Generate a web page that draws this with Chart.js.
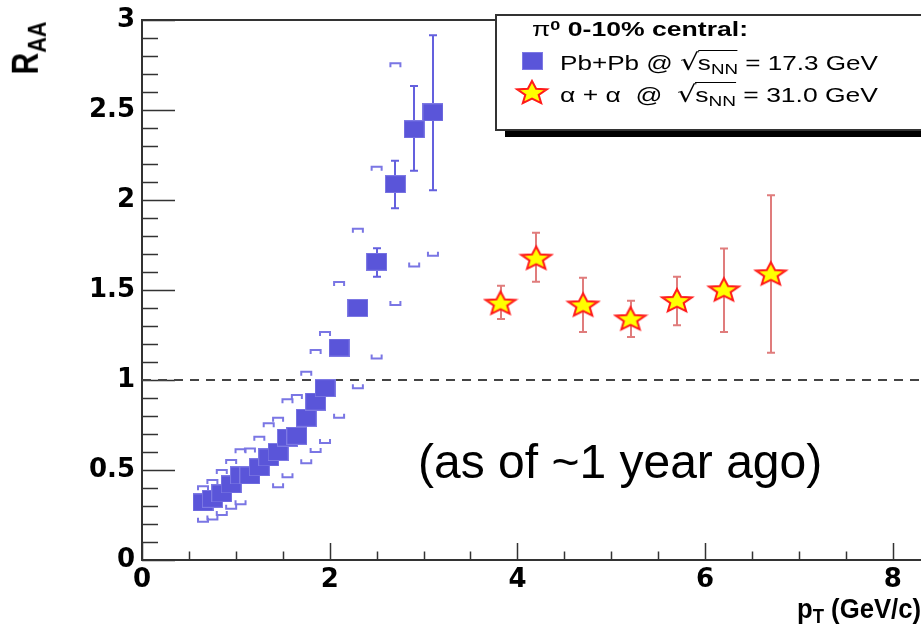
<!DOCTYPE html>
<html>
<head>
<meta charset="utf-8">
<title>R_AA vs pT</title>
<script src="https://cdn.jsdelivr.net/npm/chart.js@4.4.1/dist/chart.umd.min.js"></script>
<style>
  html, body { margin: 0; padding: 0; background: #fff; }
  #wrap { position: relative; width: 921px; height: 626px; overflow: hidden; background: #fff; }
  #plot { position: absolute; left: 0; top: 0; }
  .txt { position: absolute; white-space: nowrap; font-family: "Liberation Sans", Arial, Helvetica, sans-serif;
         color: #000; line-height: 1; transform-origin: 0 0; }
  .txt sub { font-size: 72%; vertical-align: -0.28em; line-height: 1; }
  .txt sup { font-size: 68%; vertical-align: 0.45em; line-height: 1; }
  .rad { font-family: "DejaVu Sans", sans-serif; font-size: 115%; }
  .ov { border-top: 1.5px solid #000; padding-top: 1px; margin-left: -1px; }
  #legendBox { position: absolute; left: 495px; top: 14px; width: 440px; height: 113px; background: #fff;
               border: 2px solid #333; box-shadow: 10px 6px 0 0 #000; }
  .lgMark { position: absolute; }
</style>
</head>
<body>
<div id="wrap">
  <canvas id="plot" width="921" height="626"></canvas>

  <div id="legendBox"></div>
  <div class="txt fit" id="lgTitle" data-w="216" style="left:532px; top:19px; font-size:20px; font-weight:bold;"><span style="font-weight:normal">π</span><sup>0</sup> 0-10% central:</div>
  <canvas class="lgMark" id="lgSquare" width="21" height="18" style="left:522px; top:52px;"></canvas>
  <div class="txt fit" id="lgPb" data-w="318" style="left:560px; top:51px; font-size:20px;">Pb+Pb @ <span class="rad">√</span><span class="ov">s<sub>NN</sub></span> = 17.3 GeV</div>
  <canvas class="lgMark" id="lgStar" width="36" height="28" style="left:514px; top:78px;"></canvas>
  <div class="txt fit" id="lgAa" data-w="318" style="left:560px; top:83px; font-size:20px;">α + α &nbsp;@ &nbsp;<span class="rad">√</span><span class="ov">s<sub>NN</sub></span> = 31.0 GeV</div>

  <div class="txt" id="yTitle" style="left:0; top:0; font-size:30px; font-weight:bold;">R<sub>AA</sub></div>
  <div class="txt fit" id="xTitle" data-w="124" style="left:797px; top:596px; font-size:27px; font-weight:bold;">p<sub>T</sub> (GeV/c)</div>

  <div class="txt" id="note" style="left:418px; top:438px; font-size:48px;">(as of ~1 year ago)</div>
</div>

<script>
// ---- pi0 R_AA, 0-10% central ----
// Pb+Pb @ sqrt(sNN) = 17.3 GeV
const pbPt      = [0.65, 0.75, 0.85, 0.95, 1.05, 1.15, 1.25, 1.35, 1.45, 1.55,
                   1.65, 1.75, 1.85, 1.95, 2.1, 2.3, 2.5, 2.7, 2.9, 3.1];
const pbRaa     = [0.32, 0.34, 0.37, 0.42, 0.47, 0.47, 0.515, 0.57, 0.60, 0.68,
                   0.69, 0.79, 0.88, 0.955, 1.18, 1.40, 1.657, 2.088, 2.393, 2.487];
const pbStatLow  = [null, null, null, null, null, null, null, null, null, null,
                    null, null, null, null, null, null, 1.574, 1.954, 2.163, 2.054];
const pbStatHigh = [null, null, null, null, null, null, null, null, null, null,
                    null, null, null, null, null, null, 1.732, 2.218, 2.633, 2.915];
const pbSysHigh = [0.41, 0.444, 0.50, 0.556, 0.615, 0.62, 0.685, 0.76, 0.79, 0.893,
                   0.917, 1.046, 1.167, 1.267, 1.545, 1.84, 2.185, 2.76, null, null];
const pbSysLow  = [0.213, 0.225, 0.25, 0.285, 0.31, null, null, null, 0.404, 0.46,
                   null, 0.537, 0.60, 0.65, 0.79, 0.954, 1.12, 1.417, 1.63, 1.69];

// alpha+alpha @ sqrt(sNN) = 31.0 GeV
const aaPt       = [3.82, 4.20, 4.70, 5.205, 5.70, 6.20, 6.70];
const aaRaa      = [1.43, 1.68, 1.42, 1.343, 1.444, 1.504, 1.593];
const aaStatLow  = [1.339, 1.546, 1.267, 1.239, 1.304, 1.267, 1.152];
const aaStatHigh = [1.524, 1.818, 1.568, 1.44, 1.574, 1.731, 2.026];

// axes
const xMin = 0, xMax = 8.3;
const yMin = 0, yMax = 3;
const xTickValues = [0, 2, 4, 6, 8];
const xTickLabels = ['0', '2', '4', '6', '8'];
const yTickValues = [0, 0.5, 1, 1.5, 2, 2.5, 3];
const yTickLabels = ['0', '0.5', '1', '1.5', '2', '2.5', '3'];
const xMinorStep = 0.5, yMinorStep = 0.1;
const refLevel = 1;

// ---- styles ----
const SQUARE_FILL = '#5a55d9';
const SQUARE_EDGE = '#7d79e4';
const PB_BAR = '#6460de';
const PB_BRACKET = '#7a76e4';
const AA_BAR = '#e07c7c';
const STAR_FILL = '#ffff00';
const STAR_EDGE = '#ff1a1a';
const FRAME = '#333333';

function drawSquare(c) {
  const g = c.getContext('2d');
  g.fillStyle = SQUARE_FILL;
  g.fillRect(0, 0, c.width, c.height);
  g.strokeStyle = SQUARE_EDGE;
  g.lineWidth = 1;
  g.strokeRect(0.5, 0.5, c.width - 1, c.height - 1);
  return c;
}
function drawStar(c) {
  const g = c.getContext('2d');
  const cx = c.width / 2, cy = c.height / 2 + 1.2;
  const R = 12.2, r = R * 0.45, sx = 1.28;
  g.beginPath();
  for (let i = 0; i < 10; i++) {
    const a = -Math.PI / 2 + i * Math.PI / 5;
    const rr = i % 2 === 0 ? R : r;
    const px = cx + rr * Math.cos(a) * sx, py = cy + rr * Math.sin(a);
    if (i === 0) g.moveTo(px, py); else g.lineTo(px, py);
  }
  g.closePath();
  g.fillStyle = STAR_FILL;
  g.fill();
  g.strokeStyle = STAR_EDGE;
  g.lineWidth = 2;
  g.lineJoin = 'miter';
  g.stroke();
  return c;
}
function makeCanvas(w, h) { const c = document.createElement('canvas'); c.width = w; c.height = h; return c; }

const squareImg = drawSquare(makeCanvas(21, 18));
const starImg = drawStar(makeCanvas(36, 28));
drawSquare(document.getElementById('lgSquare'));
drawStar(document.getElementById('lgStar'));

// ticks drawn inside the frame, error bars and systematic brackets
const framePlugin = {
  id: 'frameAndErrors',
  beforeDatasetsDraw(chart) {
    const { ctx, chartArea: a, scales: { x, y } } = chart;
    ctx.save();
    // top frame line
    ctx.strokeStyle = FRAME;
    ctx.lineWidth = 2;
    ctx.beginPath();
    ctx.moveTo(a.left, a.top);
    ctx.lineTo(a.right, a.top);
    ctx.stroke();
    // y ticks (inside)
    ctx.lineWidth = 1.5;
    for (let v = yMin; v <= yMax + 1e-9; v += yMinorStep) {
      const vv = Math.round(v * 10) / 10;
      const major = Math.abs(vv / 0.5 - Math.round(vv / 0.5)) < 1e-6;
      const py = Math.round(y.getPixelForValue(vv)) + 0.5;
      ctx.beginPath();
      ctx.moveTo(a.left, py);
      ctx.lineTo(a.left + (major ? 33 : 16), py);
      ctx.stroke();
    }
    // x ticks (inside)
    for (let v = xMin; v <= xMax + 1e-9; v += xMinorStep) {
      const major = Math.abs(v / 2 - Math.round(v / 2)) < 1e-6;
      const px = Math.round(x.getPixelForValue(v)) + 0.5;
      ctx.beginPath();
      ctx.moveTo(px, a.bottom);
      ctx.lineTo(px, a.bottom - (major ? 17 : 8.5));
      ctx.stroke();
    }
    ctx.beginPath();
    ctx.rect(a.left, a.top, a.right - a.left, a.bottom - a.top);
    ctx.clip();
    // Pb+Pb systematic brackets
    ctx.strokeStyle = PB_BRACKET;
    ctx.lineWidth = 2;
    pbPt.forEach((pt, i) => {
      const px = x.getPixelForValue(pt);
      if (pbSysHigh[i] != null) {
        const py = y.getPixelForValue(pbSysHigh[i]);
        ctx.beginPath();
        ctx.moveTo(px - 5, py + 4); ctx.lineTo(px - 5, py); ctx.lineTo(px + 5, py); ctx.lineTo(px + 5, py + 4);
        ctx.stroke();
      }
      if (pbSysLow[i] != null) {
        const py = y.getPixelForValue(pbSysLow[i]);
        ctx.beginPath();
        ctx.moveTo(px - 5, py - 4); ctx.lineTo(px - 5, py); ctx.lineTo(px + 5, py); ctx.lineTo(px + 5, py - 4);
        ctx.stroke();
      }
    });
    // statistical error bars
    const bars = (xs, lo, hi, color) => {
      ctx.strokeStyle = color;
      ctx.lineWidth = 2;
      xs.forEach((pt, i) => {
        if (lo[i] == null || hi[i] == null) return;
        const px = Math.round(x.getPixelForValue(pt));
        const p1 = y.getPixelForValue(hi[i]), p2 = y.getPixelForValue(lo[i]);
        ctx.beginPath();
        ctx.moveTo(px, p1); ctx.lineTo(px, p2);
        ctx.moveTo(px - 4, p1); ctx.lineTo(px + 4, p1);
        ctx.moveTo(px - 4, p2); ctx.lineTo(px + 4, p2);
        ctx.stroke();
      });
    };
    bars(pbPt, pbStatLow, pbStatHigh, PB_BAR);
    bars(aaPt, aaStatLow, aaStatHigh, AA_BAR);
    ctx.restore();
  }
};

const tickFont = { family: '"DejaVu Sans", sans-serif', size: 26, weight: 'bold' };

new Chart(document.getElementById('plot'), {
  type: 'scatter',
  data: {
    datasets: [
      {
        label: 'Pb+Pb',
        data: pbPt.map((v, i) => ({ x: v, y: pbRaa[i] })),
        pointStyle: squareImg,
        pointRadius: 10,
        order: 1
      },
      {
        label: 'alpha+alpha',
        data: aaPt.map((v, i) => ({ x: v, y: aaRaa[i] })),
        pointStyle: starImg,
        pointRadius: 12,
        order: 0
      },
      {
        type: 'line',
        label: 'R_AA = 1',
        data: [{ x: xMin, y: refLevel }, { x: xMax, y: refLevel }],
        borderColor: '#444444',
        borderWidth: 2,
        borderDash: [9, 7],
        pointRadius: 0,
        order: 2
      }
    ]
  },
  options: {
    responsive: false,
    animation: false,
    devicePixelRatio: 1,
    layout: { autoPadding: false, padding: { top: 20, right: 0, bottom: 0, left: 0 } },
    plugins: { legend: { display: false }, tooltip: { enabled: false } },
    scales: {
      x: {
        type: 'linear', min: xMin, max: xMax,
        afterFit(s) { s.height = 66; s.paddingLeft = 0; s.paddingRight = 0; },
        afterBuildTicks(s) { s.ticks = xTickValues.map(v => ({ value: v })); },
        ticks: {
          autoSkip: false, maxRotation: 0, padding: 5, color: '#000', font: tickFont,
          callback: (v) => { const k = xTickValues.indexOf(v); return k >= 0 ? xTickLabels[k] : ''; }
        },
        grid: { display: false, drawTicks: false },
        border: { display: true, color: FRAME, width: 2 }
      },
      y: {
        type: 'linear', min: yMin, max: yMax,
        afterFit(s) { s.width = 142; s.paddingTop = 0; s.paddingBottom = 0; },
        afterBuildTicks(s) { s.ticks = yTickValues.map(v => ({ value: v })); },
        ticks: {
          autoSkip: false, padding: 7, color: '#000', font: tickFont,
          callback: (v) => { const k = yTickValues.indexOf(v); return k >= 0 ? yTickLabels[k] : ''; }
        },
        grid: { display: false, drawTicks: false },
        border: { display: true, color: FRAME, width: 2 }
      }
    }
  },
  plugins: [framePlugin]
});

// stretch legend and axis-title text to their widths
document.querySelectorAll('.fit').forEach(el => {
  const w = el.getBoundingClientRect().width;
  const target = parseFloat(el.dataset.w);
  el.style.transform = 'scaleX(' + (target / w) + ')';
});
// vertical axis title, rotated
const yt = document.getElementById('yTitle');
yt.style.transform = 'translate(29px, 48px) scaleX(1.2) rotate(-90deg) translate(-50%, -50%)';
</script>
</body>
</html>
